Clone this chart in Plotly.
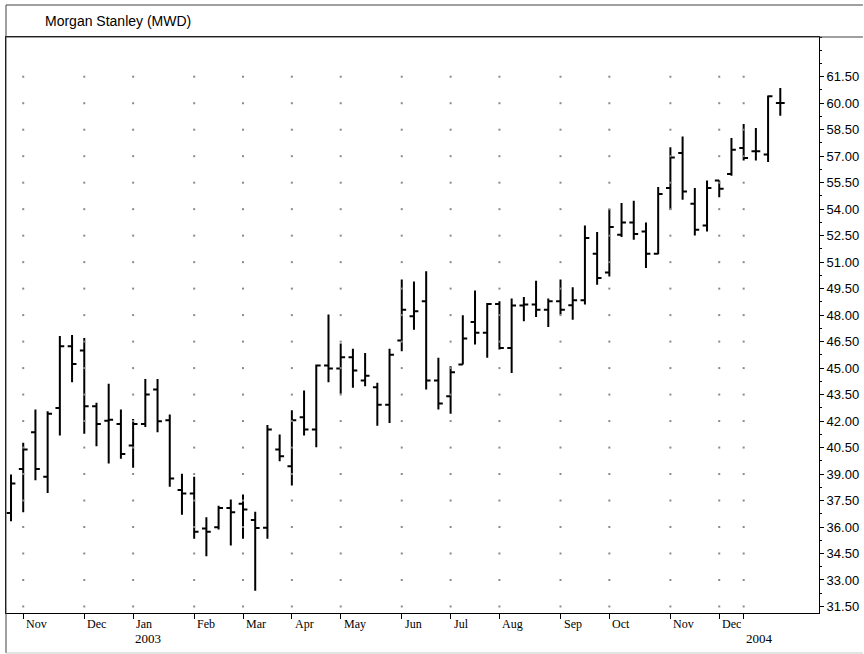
import plotly.graph_objects as go
import pandas as pd

# ---------------- data ----------------
weeks = pd.date_range("2002-10-25", periods=64, freq="7D").strftime("%Y-%m-%d").tolist()

open_ = [36.80, 39.29, 41.37, 38.84, 42.74, 46.24, 45.99, 42.84, 42.02, 41.84,
         40.61, 41.84, 43.79, 42.04, 38.09, 37.90, 35.92, 35.99, 37.08, 37.31,
         36.39, 35.96, 40.39, 39.44, 42.21, 41.52, 45.14, 44.97, 45.61, 44.30,
         43.92, 42.92, 46.56, 47.93, 48.78, 44.30, 43.41, 45.20, 47.61, 47.00,
         48.63, 46.14, 48.54, 48.60, 48.31, 48.78, 48.56, 48.84, 51.47, 50.42,
         52.55, 53.25, 52.74, 51.47, 55.20, 57.18, 54.30, 53.08, 55.63, 55.99,
         57.47, 57.28, 57.09, 60.01]
high = [38.97, 40.77, 42.65, 42.55, 46.81, 46.88, 46.71, 43.03, 44.11, 42.65,
        42.12, 44.38, 44.38, 42.37, 39.01, 38.85, 36.55, 37.21, 37.56, 37.84,
        36.86, 41.78, 41.24, 42.61, 43.73, 45.20, 48.03, 46.39, 46.09, 45.86,
        44.17, 46.10, 50.01, 49.91, 50.48, 45.58, 45.10, 47.99, 49.39, 48.69,
        48.78, 48.94, 49.03, 49.95, 48.94, 50.01, 49.58, 53.08, 52.71, 54.01,
        54.35, 54.48, 53.25, 55.25, 57.50, 58.12, 55.20, 55.63, 55.63, 58.03,
        58.82, 58.60, 60.43, 60.86]
low = [36.33, 36.84, 38.65, 37.93, 41.18, 44.20, 41.28, 40.58, 39.59, 39.86,
       39.35, 41.67, 41.37, 38.28, 36.70, 35.33, 34.34, 35.86, 34.95, 35.33,
       32.39, 35.33, 39.72, 38.35, 41.18, 40.52, 44.20, 43.54, 43.88, 43.97,
       41.74, 41.89, 45.95, 47.17, 43.79, 42.65, 42.42, 45.20, 46.33, 45.58,
       46.05, 44.72, 47.65, 47.90, 47.33, 48.03, 47.74, 48.60, 49.72, 50.19,
       52.42, 52.27, 50.67, 51.44, 53.97, 54.54, 52.51, 52.74, 54.67, 55.89,
       56.75, 56.75, 56.67, 59.29]
close = [38.47, 40.39, 39.29, 42.42, 46.24, 45.23, 42.84, 41.84, 42.07, 40.14,
         41.84, 43.50, 41.99, 38.75, 37.90, 35.73, 35.73, 37.08, 36.83, 36.99,
         35.94, 41.52, 40.01, 42.04, 41.52, 45.14, 44.97, 45.61, 44.86, 44.57,
         42.92, 45.76, 48.31, 48.22, 44.30, 42.99, 44.76, 46.67, 47.00, 48.63,
         46.14, 48.54, 48.60, 48.31, 48.78, 48.31, 48.84, 52.36, 50.10, 52.99,
         53.25, 52.59, 51.47, 54.86, 56.93, 55.00, 52.84, 55.20, 55.16, 57.37,
         56.90, 57.28, 60.39, 60.01]

month_ticks = ["2002-11-01", "2002-12-06", "2003-01-03", "2003-02-07", "2003-03-07",
               "2003-04-04", "2003-05-02", "2003-06-06", "2003-07-04", "2003-08-01",
               "2003-09-05", "2003-10-03", "2003-11-07", "2003-12-05"]
month_labels = ["Nov", "Dec", "Jan", "Feb", "Mar", "Apr", "May", "Jun", "Jul",
                "Aug", "Sep", "Oct", "Nov", "Dec"]
year_ticks = ["2003-01-03", "2003-12-19"]
year_labels = ["2003", "2004"]

price_levels = [31.5, 33.0, 34.5, 36.0, 37.5, 39.0, 40.5, 42.0, 43.5, 45.0, 46.5,
                48.0, 49.5, 51.0, 52.5, 54.0, 55.5, 57.0, 58.5, 60.0, 61.5]
price_labels = [f"{v:.2f}" for v in price_levels]

title_text = "Morgan Stanley (MWD)"

# ---------------- layout helpers ----------------
W, H = 864, 654
ML, MR, MT, MB = 5, 44, 37, 41
PW, PH = W - ML - MR, H - MT - MB


def px(x):
    return (x - ML) / PW


def py(y):
    return (H - MB - y) / PH


grid_cols = list(dict.fromkeys(month_ticks + year_ticks))

fig = go.Figure()

fig.add_trace(go.Scatter(
    x=[c for c in grid_cols for _ in price_levels],
    y=[p for _ in grid_cols for p in price_levels],
    mode="markers",
    marker=dict(symbol="square", size=2, color="#8a8a8a", line=dict(width=0)),
    hoverinfo="skip", showlegend=False))

fig.add_trace(go.Ohlc(
    x=weeks, open=open_, high=high, low=low, close=close,
    increasing=dict(line=dict(color="black", width=2)),
    decreasing=dict(line=dict(color="black", width=2)),
    tickwidth=0.36, showlegend=False))

annotations = [dict(text=title_text, xref="paper", yref="paper", x=px(42), y=py(21),
                    xanchor="left", yanchor="middle", showarrow=False,
                    font=dict(family="Liberation Sans", size=14, color="black"))]
for d, t in zip(month_ticks, month_labels):
    annotations.append(dict(text=t, xref="x", yref="paper", x=d, y=py(624),
                            xanchor="left", yanchor="middle", xshift=1, showarrow=False,
                            font=dict(family="Liberation Serif", size=12, color="black")))
for d, t in zip(year_ticks, year_labels):
    annotations.append(dict(text=t, xref="x", yref="paper", x=d, y=py(638),
                            xanchor="left", yanchor="middle", xshift=0, showarrow=False,
                            font=dict(family="Liberation Serif", size=13, color="black")))

dark = "#404040"
light = "#c8c8c8"
shapes = [
    dict(type="line", xref="paper", yref="paper", x0=px(5), x1=px(864), y0=py(5), y1=py(5),
         line=dict(color=dark, width=1)),
    dict(type="line", xref="paper", yref="paper", x0=px(5), x1=px(864), y0=py(37), y1=py(37),
         line=dict(color=dark, width=1)),
    dict(type="line", xref="paper", yref="paper", x0=px(5), x1=px(5), y0=py(5), y1=py(653),
         line=dict(color=dark, width=1)),
    dict(type="line", xref="paper", yref="paper", x0=px(5), x1=px(864), y0=py(653), y1=py(653),
         line=dict(color=light, width=1)),
]

fig.update_layout(
    width=W, height=H,
    margin=dict(l=ML, r=MR, t=MT, b=MB, pad=0),
    paper_bgcolor="white", plot_bgcolor="white",
    showlegend=False,
    annotations=annotations,
    shapes=shapes,
    xaxis=dict(
        type="category", categoryorder="array", categoryarray=weeks,
        range=[-0.41, 66.17], rangeslider=dict(visible=False),
        tickmode="array", tickvals=grid_cols, ticktext=[""] * len(grid_cols),
        ticks="outside", ticklen=5, tickcolor="black", tickwidth=1,
        showline=True, linecolor="black", linewidth=1, mirror=True,
        showgrid=False, zeroline=False, fixedrange=True,
    ),
    yaxis=dict(
        side="right", range=[31.13, 63.75],
        tickmode="array", tickvals=price_levels, ticktext=price_labels,
        ticks="outside", ticklen=4, tickcolor="black", tickwidth=1,
        minor=dict(tickmode="linear", tick0=0, dtick=0.75, ticks="outside",
                   ticklen=2, tickcolor="black", showgrid=False),
        tickfont=dict(family="Liberation Sans", size=13, color="black"),
        showline=True, linecolor="black", linewidth=1, mirror=True,
        showgrid=False, zeroline=False, fixedrange=True,
    ),
)

fig.write_html(
    "out.html",
    config={"displayModeBar": False},
    post_script="document.body.style.margin='0px';document.body.style.overflow='hidden';",
)
